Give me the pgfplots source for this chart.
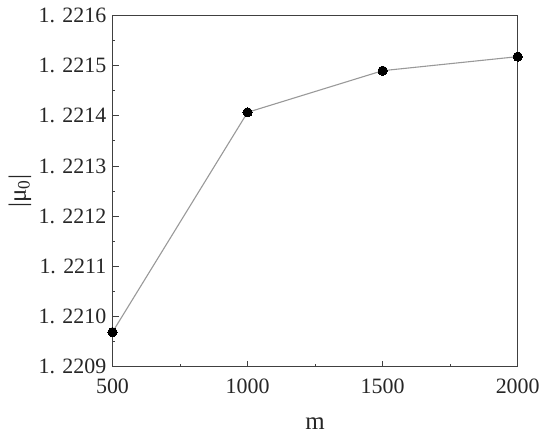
\documentclass[border=0pt]{standalone}
\usepackage{pgfplots}
\pgfplotsset{compat=1.18}
\usepackage{fontspec}
\setmainfont{Liberation Serif}
\begin{document}
\begin{tikzpicture}
\path[use as bounding box] (-112.5bp,-74.3bp) rectangle (437.5bp,366.7bp);
\begin{axis}[
  at={(0,0)}, anchor=south west,
  scale only axis, width=405.2bp, height=351.2bp,
  xmin=500, xmax=2000, ymin=1.2209, ymax=1.2216,
  /pgf/number format/assume math mode=true,
  xtick={500,1000,1500,2000},
  xticklabels={500,1000,1500,2000},
  ytick={1.2209,1.2210,1.2211,1.2212,1.2213,1.2214,1.2215,1.2216},
  yticklabels={1. 2209,1. 2210,1. 2211,1. 2212,1. 2213,1. 2214,1. 2215,1. 2216},
  minor x tick num=1, minor y tick num=1,
  xtick pos=bottom, ytick pos=left,
  tick align=inside,
  major tick length=6bp, minor tick length=3bp,
  axis line style={draw=black!75, line width=1.1bp},
  every tick/.style={draw=black!75, line width=1bp},
  tick label style={font=\fontsize{22}{25}\selectfont, text=black!85},
  yticklabel style={anchor=east, inner sep=0pt, xshift=-6bp},
  xticklabel style={anchor=center, inner sep=0pt, yshift=-20bp},
  every axis y label/.style={at={(axis description cs:-0.2283,0.5)}, rotate=90, anchor=center},
  every axis x label/.style={at={(axis description cs:0.5,0)}, anchor=center, yshift=-57bp},
  label style={font=\fontsize{25}{28}\selectfont, text=black!85},
  xlabel={m},
  ylabel={|μ\textsubscript{0}|},
  clip=false,
]
\addplot[color=black!40, line width=1.1bp, mark=*, mark size=4.6bp, mark options={fill=black, draw=black, line width=0pt}]
  coordinates {(500,1.220969) (1000,1.221407) (1500,1.221490) (2000,1.221518)};
\end{axis}
\end{tikzpicture}
\end{document}
